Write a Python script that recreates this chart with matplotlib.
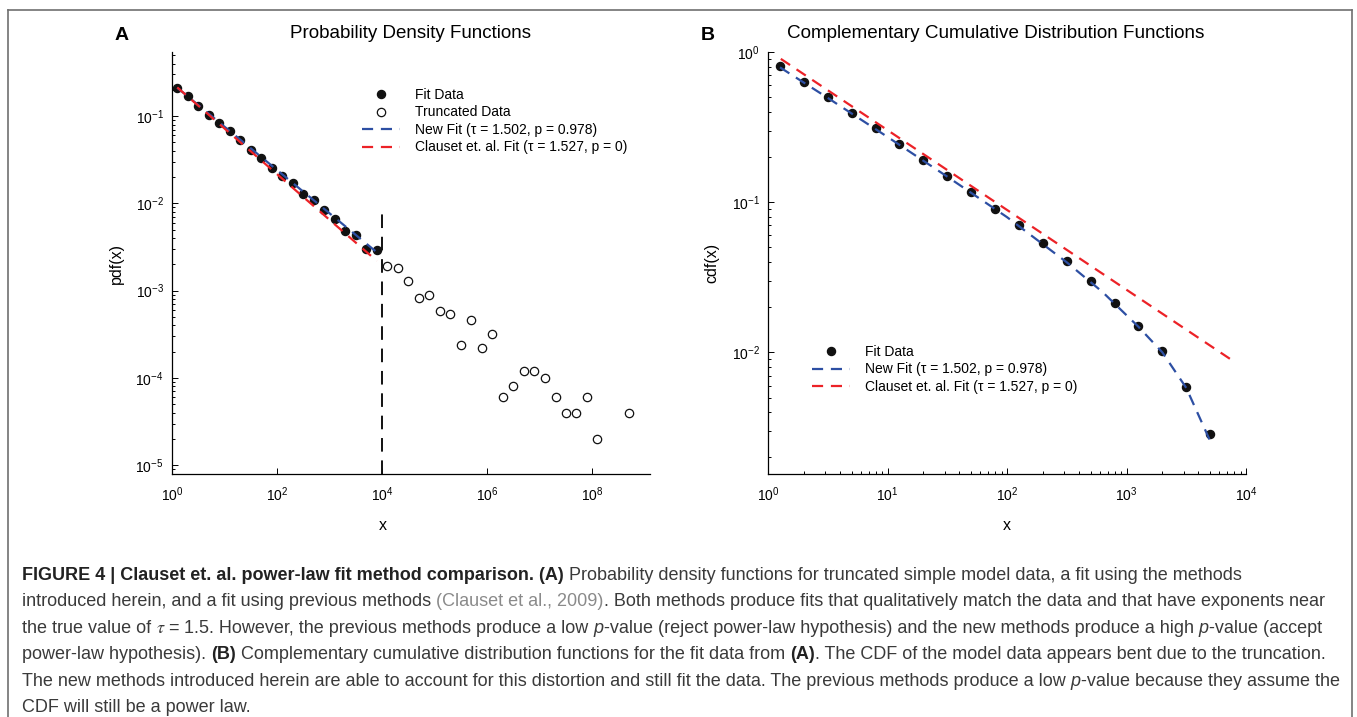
import matplotlib
matplotlib.use("Agg")
import matplotlib.pyplot as plt
from matplotlib import font_manager
from matplotlib.ticker import LogLocator, FuncFormatter, NullLocator
from matplotlib.lines import Line2D
import numpy as np

# ---- data ----
# panel A: log-binned pdf, fitted part
pdf_fit_x = [1.26, 2.0, 3.16, 5.01, 7.94, 12.6, 20.0, 31.6, 50.1, 79.4,
             126, 200, 316, 501, 794, 1259, 1995, 3162, 5012, 7943]
pdf_fit_y = [0.211, 0.168, 0.131, 0.1035, 0.083, 0.0676, 0.0531, 0.0407, 0.0327, 0.0254,
             0.0207, 0.0171, 0.0128, 0.0108, 0.0084, 0.0066, 0.0048, 0.0043, 0.00297, 0.00292]
# panel A: truncated part
pdf_trunc_x = [1.26e4, 2.0e4, 3.16e4, 5.01e4, 7.94e4, 1.26e5, 2.0e5, 3.16e5, 5.01e5, 7.94e5,
               1.26e6, 2.0e6, 3.16e6, 5.01e6, 7.94e6, 1.26e7, 2.0e7, 3.16e7, 5.01e7, 7.94e7,
               1.26e8, 5.01e8]
pdf_trunc_y = [1.93e-3, 1.80e-3, 1.28e-3, 8.2e-4, 8.85e-4, 5.8e-4, 5.4e-4, 2.4e-4, 4.6e-4, 2.2e-4,
               3.2e-4, 6e-5, 8e-5, 1.2e-4, 1.2e-4, 1e-4, 6e-5, 4e-5, 4e-5, 6e-5,
               2e-5, 4e-5]
# panel A fit lines (end points)
pdf_new_x = [1.26, 7943]
pdf_new_y = [0.211, 0.00275]
pdf_clauset_x = [1.26, 7943]
pdf_clauset_y = [0.213, 0.00219]
cutoff_x = 1e4
cutoff_top = 0.0087

# panel B: ccdf of fit data
cdf_x = [1.26, 2.0, 3.16, 5.01, 7.94, 12.6, 20.0, 31.6, 50.1, 79.4,
         126, 200, 316, 501, 794, 1259, 1995, 3162, 5012]
cdf_y = [0.803, 0.632, 0.499, 0.393, 0.310, 0.243, 0.190, 0.149, 0.116, 0.0906,
         0.0706, 0.0531, 0.0407, 0.0298, 0.0214, 0.0150, 0.0102, 0.00585, 0.00287]
cdf_new_x = [1.26, 3.16, 10, 31.6, 100, 316, 631, 1259, 1995, 3162, 5012]
cdf_new_y = [0.79, 0.495, 0.272, 0.148, 0.0795, 0.0398, 0.0252, 0.0148, 0.0100, 0.0058, 0.00257]
cdf_clauset_x = [1.28, 7762]
cdf_clauset_y = [0.90, 0.00879]

lab_fit = "Fit Data"
lab_trunc = "Truncated Data"
lab_new = "New Fit (\u03c4 = 1.502, p = 0.978)"
lab_clauset = "Clauset et. al. Fit (\u03c4 = 1.527, p = 0)"

# ---- style ----
plt.rcParams["font.family"] = ["Liberation Sans", "DejaVu Sans"]
plt.rcParams["mathtext.fontset"] = "stix"
BLUE = "#2d4fa3"
RED = "#ec2227"
DASH = (5, 3.5)

W, H = 1357, 717
fig = plt.figure(figsize=(W / 100, H / 100), dpi=100)


def fx(px):
    return px / W


def fy(py):
    return 1 - py / H


def decade_fmt(v, pos):
    e = int(round(np.log10(v)))
    return r"$\mathregular{10^{%d}}$" % e


def style_axes(ax):
    for s in ("top", "right"):
        ax.spines[s].set_visible(False)
    for s in ("left", "bottom"):
        ax.spines[s].set_linewidth(0.9)
    ax.tick_params(which="both", direction="in", labelsize=10, width=0.7)
    ax.tick_params(which="major", length=4)
    ax.tick_params(which="minor", length=2.5)
    ax.tick_params(axis="x", which="major", pad=8.5)
    ax.tick_params(axis="y", which="major", pad=6)
    ax.xaxis.set_major_formatter(FuncFormatter(decade_fmt))
    ax.yaxis.set_major_formatter(FuncFormatter(decade_fmt))


leg_kw = dict(frameon=False, fontsize=10, numpoints=1, handlelength=2.75, handletextpad=1.05,
              labelspacing=0.25, borderpad=0, borderaxespad=0, loc="upper left",
              bbox_transform=fig.transFigure)

# ---- panel A ----
axA = fig.add_axes([fx(172), fy(474), (650 - 172) / W, (474 - 52) / H])
axA.set_xscale("log")
axA.set_yscale("log")
axA.plot(pdf_fit_x, pdf_fit_y, "o", color="#111111", ms=5.8, label=lab_fit, zorder=2)
axA.plot(pdf_trunc_x, pdf_trunc_y, "o", mfc="white", mec="#111111", mew=0.9, ms=6,
         label=lab_trunc, zorder=2)
axA.plot(pdf_new_x, pdf_new_y, color=BLUE, lw=1.6, dashes=DASH, label=lab_new, zorder=3)
axA.plot(pdf_clauset_x, pdf_clauset_y, color=RED, lw=1.6, dashes=DASH, label=lab_clauset, zorder=3)
axA.vlines(cutoff_x, 10 ** -5.1, cutoff_top, color="#111111", lw=1.4, linestyles=(0, (7, 4.5)))
axA.set_xlim(1, 10 ** 9.1)
axA.set_ylim(10 ** -5.1, 10 ** -0.266)
style_axes(axA)
axA.xaxis.set_major_locator(LogLocator(base=100))
axA.xaxis.set_minor_locator(NullLocator())
axA.yaxis.set_major_locator(LogLocator(base=10))
axA.yaxis.set_minor_locator(LogLocator(base=10, subs=np.arange(2, 10)))
axA.set_ylabel("pdf(x)", fontsize=11.5)
axA.yaxis.set_label_coords((124 - 172) / 478, 0.5)
axA.set_xlabel("x", fontsize=11.5)
axA.xaxis.set_label_coords((383 - 172) / 478, -(518 - 474) / 422)
axA.legend(bbox_to_anchor=(fx(362), fy(88)), **leg_kw)

# ---- panel B ----
axB = fig.add_axes([fx(768), fy(474), (1246 - 768) / W, (474 - 52) / H])
axB.set_xscale("log")
axB.set_yscale("log")
axB.plot(cdf_x, cdf_y, "o", color="#111111", ms=5.8, label=lab_fit, zorder=2)
axB.plot(cdf_new_x, cdf_new_y, color=BLUE, lw=1.6, dashes=DASH, label=lab_new, zorder=3)
axB.plot(cdf_clauset_x, cdf_clauset_y, color=RED, lw=1.6, dashes=DASH, label=lab_clauset, zorder=3)
axB.set_xlim(1, 1e4)
axB.set_ylim(10 ** -2.81, 1)
style_axes(axB)
axB.xaxis.set_major_locator(LogLocator(base=10))
axB.xaxis.set_minor_locator(LogLocator(base=10, subs=np.arange(2, 10)))
axB.yaxis.set_major_locator(LogLocator(base=10))
axB.yaxis.set_minor_locator(LogLocator(base=10, subs=np.arange(2, 10)))
axB.set_ylabel("cdf(x)", fontsize=11.5)
axB.yaxis.set_label_coords((719 - 768) / 478, 0.5)
axB.set_xlabel("x", fontsize=11.5)
axB.xaxis.set_label_coords(0.5, -(518 - 474) / 422)
axB.legend(bbox_to_anchor=(fx(812), fy(345)), **leg_kw)

# titles and panel letters
fig.text(fx(411), fy(33), "Probability Density Functions", ha="center", va="center", fontsize=13.5)
fig.text(fx(996), fy(33), "Complementary Cumulative Distribution Functions", ha="center",
         va="center", fontsize=13.6)
fig.text(fx(122), fy(36), "A", ha="center", va="center", fontsize=14, fontweight="bold")
fig.text(fx(708), fy(36), "B", ha="center", va="center", fontsize=14, fontweight="bold")

# outer frame
frame_kw = dict(color="#707070", lw=1.2, transform=fig.transFigure)
fig.add_artist(Line2D([fx(8), fx(1352)], [fy(10), fy(10)], **frame_kw))
fig.add_artist(Line2D([fx(8), fx(8)], [fy(10), 0], **frame_kw))
fig.add_artist(Line2D([fx(1352), fx(1352)], [fy(10), 0], **frame_kw))

# ---- caption ----
names = {f.name for f in font_manager.fontManager.ttflist}
cap_family = "Liberation Sans Narrow" if "Liberation Sans Narrow" in names else "Liberation Sans"
renderer = fig.canvas.get_renderer()
TXT = "#3a3a3a"
LINK = "#8a8a8a"


def seg_kw(style, size):
    kw = dict(fontsize=size, family=[cap_family, "DejaVu Sans"], color=TXT)
    if style == "b":
        kw.update(fontweight="bold", color="#222222")
    elif style == "i":
        kw.update(fontstyle="italic")
    elif style == "g":
        kw.update(color=LINK)
    return kw


def seg_width(s, kw):
    t1 = fig.text(0, 0, s + "|", **kw)
    t2 = fig.text(0, 0, "|", **kw)
    w = t1.get_window_extent(renderer).width - t2.get_window_extent(renderer).width
    t1.remove()
    t2.remove()
    return w


caption = [
    [("FIGURE 4 | Clauset et. al. power-law fit method comparison. (A)", "b"),
     (" Probability density functions for truncated simple model data, a fit using the methods", "n")],
    [("introduced herein, and a fit using previous methods ", "n"), ("(Clauset et al., 2009)", "g"),
     (". Both methods produce fits that qualitatively match the data and that have exponents near", "n")],
    [("the true value of ", "n"), (r"$\tau$ = 1.5", "m"),
     (". However, the previous methods produce a low ", "n"), ("p", "i"),
     ("-value (reject power-law hypothesis) and the new methods produce a high ", "n"), ("p", "i"),
     ("-value (accept", "n")],
    [("power-law hypothesis). ", "n"), ("(B)", "b"),
     (" Complementary cumulative distribution functions for the fit data from ", "n"), ("(A)", "b"),
     (". The CDF of the model data appears bent due to the truncation.", "n")],
    [("The new methods introduced herein are able to account for this distortion and still fit the data. "
      "The previous methods produce a low ", "n"), ("p", "i"),
     ("-value because they assume the", "n")],
    [("CDF will still be a power law.", "n")],
]

# choose caption size so that the second line spans the text block width
base = 12.0
w2 = sum(seg_width(s, seg_kw(st, base)) for s, st in caption[1])
cap_size = base * (1330 - 22) / w2

y0 = 580
for i, line in enumerate(caption):
    x = 22.0
    y = y0 + 26.4 * i
    for s, st in line:
        kw = seg_kw(st, cap_size)
        fig.text(fx(x), fy(y), s, va="baseline", ha="left", **kw)
        x += seg_width(s, kw)

fig.savefig("out.png", dpi=100)
